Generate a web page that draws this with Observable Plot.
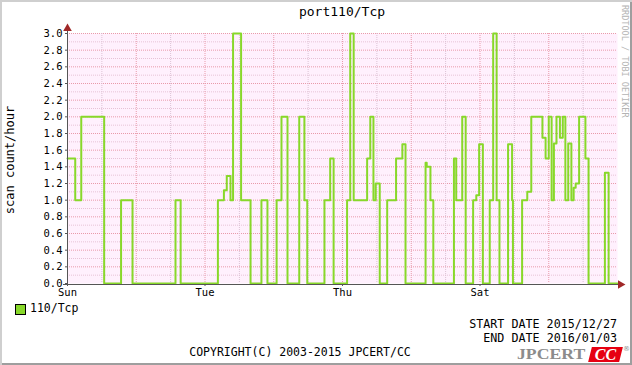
<!DOCTYPE html>
<html>
<head>
<meta charset="utf-8">
<script src="https://cdn.jsdelivr.net/npm/d3@7"></script>
<script src="https://cdn.jsdelivr.net/npm/@observablehq/plot@0.6"></script>
<style>
  html, body { margin: 0; padding: 0; background: #fff; }
  #wrap { position: relative; width: 632px; height: 365px; overflow: hidden; background: #fff;
          font-family: "DejaVu Sans Mono", monospace; color: #000;
          box-shadow: inset 2px 2px 0 #cfcfcf, inset -2px -2px 0 #9e9e9e; }
  #chart { position: absolute; left: 0; top: 0; }
  .abs { position: absolute; white-space: nowrap; }
</style>
</head>
<body>
<div id="wrap">
  <div id="chart"></div>
  <div class="abs" id="title" style="left:67px;top:4px;width:550px;text-align:center;font-size:13px;line-height:16px;"></div>
  <div class="abs" id="ylabel" style="left:10px;top:160px;font-size:12px;line-height:14px;transform:translate(-50%,-50%) rotate(-90deg);"></div>
  <div class="abs" id="credit" style="left:620px;top:5px;font-size:8.5px;line-height:9px;color:#b4b4b4;writing-mode:vertical-rl;"></div>
  <div class="abs" style="left:15px;top:304px;width:9px;height:9px;border:1px solid #000;background:#88d82a;"></div>
  <div class="abs" id="legend" style="left:30px;top:302px;font-size:11.5px;line-height:13px;"></div>
  <div class="abs" id="start" style="right:15px;top:317.5px;font-size:11.7px;line-height:13px;text-align:right;"></div>
  <div class="abs" id="end" style="right:15px;top:332px;font-size:11.7px;line-height:13px;text-align:right;"></div>
  <div class="abs" id="copy" style="left:0;width:600px;top:346px;font-size:11.5px;line-height:13px;text-align:center;"></div>
  <div class="abs" id="logo1" style="left:517px;top:346.5px;font-family:'Liberation Serif',serif;font-weight:bold;font-size:15px;line-height:15px;color:#8c8c8c;transform:scaleX(1.18);transform-origin:left center;"></div>
  <div class="abs" style="left:590px;top:347px;width:31px;height:15px;background:#e60012;transform:skewX(-14deg);"></div>
  <div class="abs" id="logo2" style="left:590px;top:346.5px;width:31px;text-align:center;font-family:'Liberation Serif',serif;font-weight:bold;font-style:italic;font-size:16px;line-height:15px;color:#fff;"></div>
  <div class="abs" id="logo3" style="left:623px;top:346px;font-family:'DejaVu Sans',sans-serif;font-size:7px;line-height:7px;color:#8c8c8c;"></div>
</div>
<script>
// ---- data (hours from 2015/12/27 00:00, value after each change) ----
const changeHours = [0, 2.7, 4.8, 12.8, 18.7, 22.7, 37.7, 39.5, 52.5, 54.6, 55.6, 56.9, 57.8, 60.6, 63.9, 67.7, 69.8, 73.0, 74.7, 76.8, 80.9, 82.7, 83.7, 89.7, 91.7, 92.9, 97.6, 98.7, 99.9, 104.6, 105.7, 106.8, 107.6, 109.0, 111.6, 114.7, 116.9, 118.0, 125.0, 125.4, 126.7, 127.7, 134.9, 135.7, 137.8, 139.0, 141.6, 142.7, 143.7, 145.0, 147.4, 148.6, 149.8, 150.8, 153.8, 155.2, 155.5, 158.7, 160.5, 161.9, 165.8, 166.9, 168.0, 169.0, 169.8, 170.7, 171.9, 172.9, 173.8, 174.8, 175.9, 176.7, 177.4, 178.6, 180.8, 181.9, 187.6, 188.9];
const scanValues = [1.5, 1.0, 2.0, 0, 1.0, 0, 1.0, 0, 1.0, 1.12, 1.29, 1.0, 3.0, 1.0, 0, 1.0, 0, 1.0, 2.0, 0, 2.0, 1.0, 0, 1.0, 1.5, 0, 1.0, 3.0, 1.0, 1.5, 2.0, 1.0, 1.2, 0, 1.0, 1.5, 1.67, 0, 1.45, 1.4, 1.0, 0, 1.5, 1.0, 2.0, 0, 1.0, 1.06, 1.67, 0, 1.0, 3.0, 1.0, 0, 1.67, 1.0, 0, 1.0, 1.1, 2.0, 1.75, 1.5, 2.0, 1.0, 1.68, 2.0, 1.75, 2.0, 1.0, 1.68, 1.0, 1.15, 1.2, 2.0, 1.5, 0, 1.33, 0];
const endHour = 192;
const xTickHours = [0, 48, 96, 144];
const xTickLabels = ["Sun", "Tue", "Thu", "Sat"];
const dayHours = [24, 48, 72, 96, 120, 144, 168];
const halfDayHours = [12, 36, 60, 84, 108, 132, 156, 180];
const yMajor = [0.2, 0.4, 0.6, 0.8, 1.0, 1.2, 1.4, 1.6, 1.8, 2.0, 2.2, 2.4, 2.6, 2.8, 3.0];
const yMinor = [0.1, 0.3, 0.5, 0.7, 0.9, 1.1, 1.3, 1.5, 1.7, 1.9, 2.1, 2.3, 2.5, 2.7, 2.9];
const yTickValues = [0, 0.2, 0.4, 0.6, 0.8, 1.0, 1.2, 1.4, 1.6, 1.8, 2.0, 2.2, 2.4, 2.6, 2.8, 3.0];
const yTickLabels = ["0.0", "0.2", "0.4", "0.6", "0.8", "1.0", "1.2", "1.4", "1.6", "1.8", "2.0", "2.2", "2.4", "2.6", "2.8", "3.0"];

const titleText = "port110/Tcp";
const yLabelText = "scan count/hour";
const legendText = "110/Tcp";
const startText = "START DATE 2015/12/27";
const endText = "END DATE 2016/01/03";
const copyText = "COPYRIGHT(C) 2003-2015 JPCERT/CC";
const creditText = "RRDTOOL / TOBI OETIKER";
const logoParts = ["JPCERT", "CC", "®"];

const series = changeHours.map((h, i) => ({h, v: scanValues[i]}));
series.push({h: endHour, v: scanValues[scanValues.length - 1]});

const lineColor = "#88d82a";
const chart = Plot.plot({
  width: 632,
  height: 300,
  marginLeft: 67,
  marginRight: 15,
  marginTop: 33,
  marginBottom: 17,
  x: {domain: [0, endHour], axis: null},
  y: {domain: [0, 3], axis: null},
  style: {background: "transparent", fontFamily: "DejaVu Sans Mono", fontSize: "10.5px", color: "#000"},
  marks: [
    Plot.frame({fill: "#fff0fd", stroke: null}),
    Plot.ruleY(yMinor, {stroke: "#e7c3d6", strokeWidth: 1, strokeDasharray: "1,1"}),
    Plot.ruleY(yMajor, {stroke: "#e99aaa", strokeWidth: 1, strokeDasharray: "1,1"}),
    Plot.ruleX(halfDayHours, {stroke: "#dcc2d4", strokeWidth: 1, strokeDasharray: "1,1"}),
    Plot.ruleX(dayHours, {stroke: "#e99aaa", strokeWidth: 1, strokeDasharray: "1,1"}),
    Plot.line(series, {x: "h", y: "v", curve: "step-after", stroke: lineColor, strokeWidth: 2}),
    Plot.ruleY([0], {stroke: "#555", strokeWidth: 1, dy: 1, insetLeft: -4, insetRight: -2}),
    Plot.ruleX([0], {stroke: "#555", strokeWidth: 1, insetTop: -4, insetBottom: -3}),
    Plot.dot([0], {frameAnchor: "top-left", dy: -5, symbol: "triangle", r: 3.2, fill: "#a02828", stroke: null}),
    Plot.dot([0], {frameAnchor: "bottom-right", dx: 3, dy: 1, symbol: "triangle", rotate: 90, r: 3.2, fill: "#a02828", stroke: null}),
    Plot.axisY(yTickValues, {label: null, tickFormat: (d, i) => yTickLabels[i], tickSize: 2, tickPadding: 3, stroke: "#555", fontSize: 10.5}),
    Plot.axisX(xTickHours, {label: null, tickFormat: (d, i) => xTickLabels[i], tickSize: 2, tickPadding: 2, stroke: "#555", fontSize: 10.5, dy: 1})
  ]
});
document.getElementById("chart").appendChild(chart);
document.getElementById("title").textContent = titleText;
document.getElementById("ylabel").textContent = yLabelText;
document.getElementById("legend").textContent = legendText;
document.getElementById("start").textContent = startText;
document.getElementById("end").textContent = endText;
document.getElementById("copy").textContent = copyText;
document.getElementById("credit").textContent = creditText;
document.getElementById("logo1").textContent = logoParts[0];
document.getElementById("logo2").textContent = logoParts[1];
document.getElementById("logo3").textContent = logoParts[2];
</script>
</body>
</html>
